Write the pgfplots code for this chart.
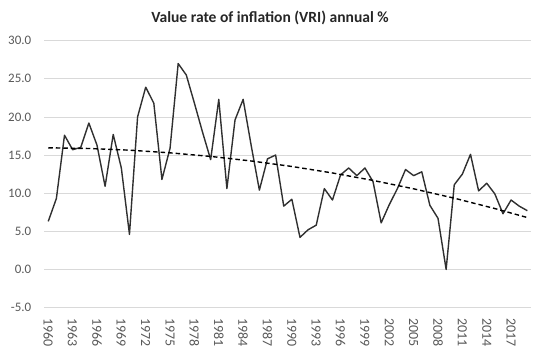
\documentclass[border=0pt]{standalone}
\usepackage{pgfplots}
\pgfplotsset{compat=1.18}
\usepackage{fontspec}
\setmainfont{Carlito}
\definecolor{tickgray}{HTML}{595959}
\definecolor{gridgray}{HTML}{D9D9D9}
\definecolor{linegray}{HTML}{303030}
\begin{document}
\begin{tikzpicture}
\useasboundingbox (-44.2bp,-45.5bp) rectangle (495.8bp,307.5bp);
\begin{axis}[
  at={(0,0)}, anchor=south west,
  scale only axis, width=487.2bp, height=266.8bp,
  xmin=1959.5, xmax=2019.5, ymin=-5, ymax=30,
  xtick={1960,1963,...,2017},
  ytick={-5,0,...,30},
  ymajorgrids, major grid style={gridgray, line width=0.8bp},
  axis line style={draw=none},
  major tick length=0pt,
  /pgf/number format/assume math mode=true,
  tick label style={font=\fontsize{13}{14}\selectfont, color=tickgray},
  yticklabel style={/pgf/number format/.cd, fixed, fixed zerofill, precision=1, /tikz/.cd, xshift=-9.5bp},
  xticklabel style={/pgf/number format/1000 sep={}, rotate=-90, anchor=west, inner sep=0pt, xshift=10.8bp, font=\fontsize{14}{15}\selectfont},
  clip=false,
]
\addplot[linegray, line width=1.4bp, line join=round] coordinates {
(1960,6.3) (1961,9.3) (1962,17.6) (1963,15.7) (1964,16.0) (1965,19.2) (1966,16.3) (1967,10.9) (1968,17.7) (1969,13.3)
(1970,4.6) (1971,20.0) (1972,23.9) (1973,21.8) (1974,11.8) (1975,15.9) (1976,27.0) (1977,25.5) (1978,21.8) (1979,18.0)
(1980,14.4) (1981,22.3) (1982,10.6) (1983,19.6) (1984,22.3) (1985,16.2) (1986,10.4) (1987,14.5) (1988,15.0) (1989,8.3)
(1990,9.2) (1991,4.2) (1992,5.2) (1993,5.8) (1994,10.6) (1995,9.1) (1996,12.4) (1997,13.3) (1998,12.3) (1999,13.3)
(2000,11.5) (2001,6.1) (2002,8.5) (2003,10.6) (2004,13.1) (2005,12.3) (2006,12.8) (2007,8.4) (2008,6.7) (2009,0.0)
(2010,11.1) (2011,12.5) (2012,15.1) (2013,10.3) (2014,11.3) (2015,9.9) (2016,7.3) (2017,9.1) (2018,8.3) (2019,7.7)
};
\addplot[black, line width=1.4bp, dash pattern=on 4.5bp off 3bp] coordinates {
(1960,15.95) (1965,15.86) (1970,15.64) (1975,15.29) (1980,14.82) (1985,14.22) (1990,13.50) (1995,12.65) (2000,11.67) (2005,10.57) (2010,9.34) (2015,7.98) (2019,6.80)
};
\end{axis}
\node[font=\bfseries\fontsize{15.6}{17}\selectfont, color=black!85] at (225.8bp,289.5bp) {Value rate of inflation (VRI) annual \%};
\end{tikzpicture}
\end{document}
